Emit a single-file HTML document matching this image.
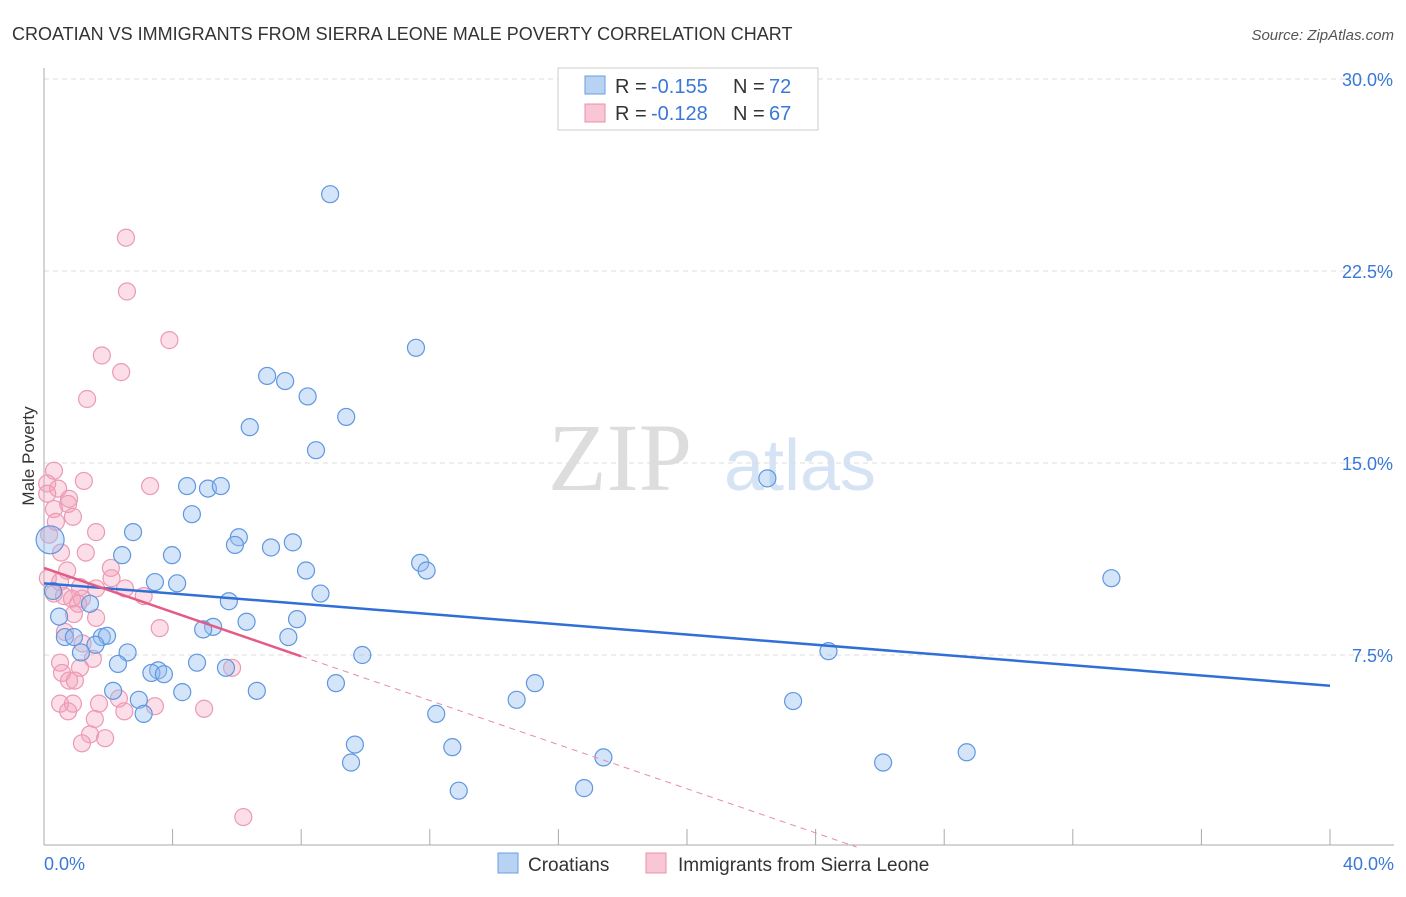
<!DOCTYPE html>
<html><head><meta charset="utf-8"><style>
body{margin:0;background:#fff;font-family:"Liberation Sans",sans-serif;}
</style></head><body>
<svg id="chart" width="1406" height="892" xmlns="http://www.w3.org/2000/svg">
<text x="12" y="40" font-size="18" fill="#333">CROATIAN VS IMMIGRANTS FROM SIERRA LEONE MALE POVERTY CORRELATION CHART</text>
<text x="1394" y="40" font-size="15" fill="#555" font-style="italic" text-anchor="end">Source: ZipAtlas.com</text>
<text x="34" y="456" font-size="17" fill="#333" text-anchor="middle" transform="rotate(-90 34 456)">Male Poverty</text>
<text x="620" y="490" font-size="96" fill="#ddd" font-family="Liberation Serif" text-anchor="middle">ZIP</text>
<text x="800" y="490" font-size="72" fill="#d5e3f5" text-anchor="middle">atlas</text>
<g id="grid"></g><g id="axes"></g><g id="pts"></g><g id="lines"></g>
<g>
<rect x="558" y="68" width="260" height="62" fill="#fff" stroke="#ccc"/>
<rect x="585" y="76" width="20" height="18" fill="#b8d2f4" stroke="#6a9de0"/>
<text x="615" y="93" font-size="20" fill="#333">R =</text>
<text x="651" y="93" font-size="20" fill="#3a78d8">-0.155</text>
<text x="733" y="93" font-size="20" fill="#333">N =</text>
<text x="769" y="93" font-size="20" fill="#3a78d8">72</text>
<rect x="585" y="104" width="20" height="18" fill="#f8c6d4" stroke="#e890aa"/>
<text x="615" y="120" font-size="20" fill="#333">R =</text>
<text x="651" y="120" font-size="20" fill="#3a78d8">-0.128</text>
<text x="733" y="120" font-size="20" fill="#333">N =</text>
<text x="769" y="120" font-size="20" fill="#3a78d8">67</text>
</g>
<g>
<rect x="498" y="853" width="20" height="20" fill="#b8d2f4" stroke="#6a9de0"/>
<text x="528" y="871" font-size="19" fill="#333">Croatians</text>
<rect x="646" y="853" width="20" height="20" fill="#f8c6d4" stroke="#e890aa"/>
<text x="678" y="871" font-size="19" fill="#333">Immigrants from Sierra Leone</text>
</g>
</svg>
<script>
const yTicks=[7.5,15,22.5,30];
const yTickLabels=["7.5%","15.0%","22.5%","30.0%"];
const xEnds=[0,40];
const xEndLabels=["0.0%","40.0%"];
const blueX=[8.9,11.57,6.94,7.5,8.2,9.4,6.4,8.46,22.5,4.45,5.1,5.5,4.6,2.77,6.06,7.74,5.94,7.06,0.19,2.43,3.98,11.7,11.9,8.15,33.2,3.45,4.14,8.6,0.28,5.75,1.43,0.47,7.87,6.3,5.26,4.95,0.65,0.93,1.8,1.96,7.6,1.6,1.15,2.6,24.4,9.9,2.3,4.76,5.66,3.55,3.34,3.73,9.08,15.27,2.15,4.3,6.62,2.95,14.7,23.3,3.1,12.2,9.67,12.7,28.7,17.4,9.55,26.1,12.9,16.8];
const blueY=[25.5,19.5,18.4,18.2,17.6,16.8,16.4,15.5,14.4,14.1,14.0,14.1,13.0,12.3,12.1,11.9,11.8,11.7,12.0,11.4,11.4,11.1,10.8,10.8,10.5,10.35,10.3,9.9,10.0,9.6,9.5,9.0,8.9,8.8,8.6,8.5,8.2,8.2,8.2,8.25,8.2,7.9,7.6,7.6,7.65,7.5,7.15,7.2,7.0,6.9,6.8,6.75,6.4,6.4,6.1,6.05,6.1,5.75,5.75,5.7,5.2,5.2,4.0,3.9,3.7,3.5,3.3,3.3,2.2,2.3];
const pinkX=[2.55,2.58,3.9,1.8,2.4,1.34,0.31,1.24,3.3,0.1,0.44,0.1,0.78,0.75,0.31,0.9,0.37,1.62,0.16,1.3,0.53,0.72,2.08,2.1,0.12,0.5,1.12,1.62,2.52,0.31,0.62,0.87,1.18,3.1,1.06,1.62,0.93,0.65,3.6,1.2,1.52,0.5,1.12,5.85,0.56,0.78,0.96,2.33,1.71,0.5,0.9,4.98,3.45,2.5,0.75,1.58,1.43,1.9,1.18,6.2];
const pinkY=[23.8,21.7,19.8,19.2,18.55,17.5,14.7,14.3,14.1,14.2,14.0,13.8,13.6,13.4,13.2,12.9,12.7,12.3,12.2,11.5,11.5,10.8,10.9,10.5,10.5,10.35,10.15,10.1,10.1,9.9,9.8,9.7,9.7,9.8,9.5,8.95,9.1,8.4,8.55,7.95,7.35,7.2,7.0,7.0,6.8,6.5,6.5,5.8,5.6,5.6,5.6,5.4,5.5,5.3,5.3,5.0,4.4,4.25,4.05,1.17];
const blueTrend=[10.3,6.3];
const pinkTrend=[10.9,7.45];
const pinkSolidEnd=8.0;

const X0=44,X1=1330,Y0=847,PX_PER=192/7.5;
const sx=v=>X0+(v-xEnds[0])/(xEnds[1]-xEnds[0])*(X1-X0);
const sy=v=>Y0-v*PX_PER;
const NS="http://www.w3.org/2000/svg";
function mk(p,tag,attrs){const e=document.createElementNS(NS,tag);for(const k in attrs)e.setAttribute(k,attrs[k]);p.appendChild(e);return e;}
const grid=document.getElementById('grid'),axes=document.getElementById('axes'),pts=document.getElementById('pts'),lines=document.getElementById('lines');
yTicks.forEach((t,i)=>{
 const g=mk(grid,'line',{x1:X0,x2:1394,y1:sy(t),y2:sy(t),stroke:'#ddd','stroke-dasharray':'5,4'});
 
 
 const l=mk(axes,'text',{x:1393,y:sy(t)+7,'font-size':18,fill:'#3a78d8','text-anchor':'end'});
 l.textContent=yTickLabels[i];
 
 
});
const ax=mk(axes,'line',{x1:X0,x2:X0,y1:68,y2:845,stroke:'#aaa'});


const bx=mk(axes,'line',{x1:X0,x2:1394,y1:845,y2:845,stroke:'#aaa'});


for(let i=0;i<=10;i++){
 const v=xEnds[0]+i*(xEnds[1]-xEnds[0])/10;
 const t=mk(axes,'line',{x1:sx(v),x2:sx(v),y1:829,y2:845,stroke:'#aaa'});
 
 
}
[[0,44,'start'],[1,1394,'end']].forEach(([i,x,a])=>{
 const l=mk(axes,'text',{x:x,y:870,'font-size':18,fill:'#3a78d8','text-anchor':a});
 l.textContent=xEndLabels[i];
 
 
});
pinkX.forEach((v,i)=>{
 const c=mk(pts,'circle',{cx:sx(v),cy:sy(pinkY[i]),r:8.5,fill:'rgba(244,160,186,0.35)',stroke:'#ec9ab4','stroke-width':1.2});
 
 
});
blueX.forEach((v,i)=>{
 const c=mk(pts,'circle',{cx:sx(v),cy:sy(blueY[i]),r:i===18?14:8.5,fill:'rgba(150,190,240,0.4)',stroke:'#5f97e0','stroke-width':1.2});
 
 
});
const b=mk(lines,'line',{x1:sx(0),y1:sy(blueTrend[0]),x2:sx(40),y2:sy(blueTrend[1]),stroke:'#2f6fd6','stroke-width':2.5});


const slope=(pinkTrend[1]-pinkTrend[0])/pinkSolidEnd;
const zeroX=-pinkTrend[0]/slope;
const p1=mk(lines,'line',{x1:sx(0),y1:sy(pinkTrend[0]),x2:sx(pinkSolidEnd),y2:sy(pinkTrend[1]),stroke:'#e45c86','stroke-width':2.5});


const p2=mk(lines,'line',{x1:sx(pinkSolidEnd),y1:sy(pinkTrend[1]),x2:sx(zeroX),y2:sy(0),stroke:'#e88aa8','stroke-width':1,'stroke-dasharray':'6,5'});


</script>
</body></html>
